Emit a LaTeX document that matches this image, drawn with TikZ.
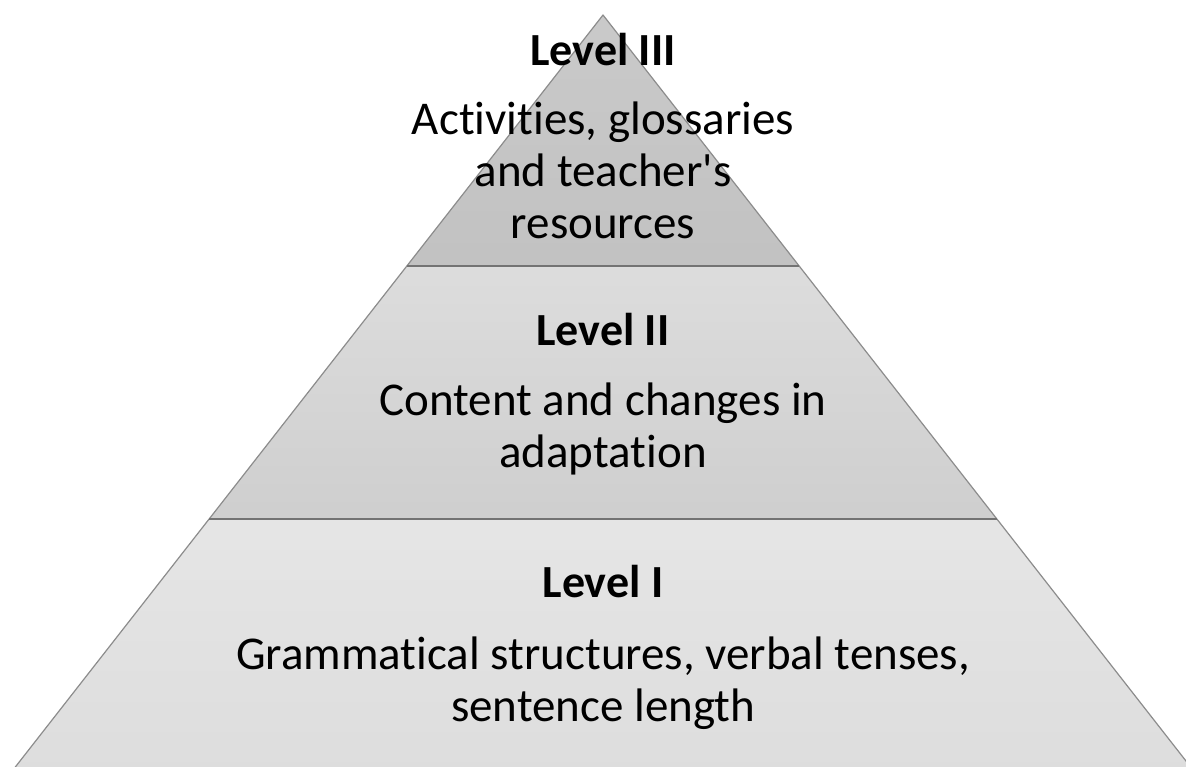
\documentclass[tikz,border=0pt]{standalone}
\usepackage{fontspec}
\setmainfont{Carlito}[Ligatures={TeXOff,NoCommon}]
\begin{document}
\begin{tikzpicture}[x=1pt,y=-1pt,
  title/.style={font=\fontsize{46}{52}\selectfont\bfseries, text=black, inner sep=0pt, anchor=base},
  body/.style={font=\fontsize{47}{52}\selectfont, text=black, inner sep=0pt, align=center, anchor=base},
  edge/.style={draw=black!45, line width=1.2pt, line join=round},
  sep/.style={draw=black!55, line width=2pt}]
\useasboundingbox (0,0) rectangle (1186,766);
\clip (0,0) rectangle (1186,766);
\coordinate (apex) at (603,15);
\coordinate (l3) at ({603-0.7815*(266-15)},266);
\coordinate (r3) at ({603+0.7815*(266-15)},266);
\coordinate (l2) at ({603-0.7815*(519-15)},519);
\coordinate (r2) at ({603+0.7815*(519-15)},519);
\coordinate (l1) at ({603-0.7815*(790-15)},790);
\coordinate (r1) at ({603+0.7815*(790-15)},790);
% fills
\shade[top color=white!79!black, bottom color=white!76!black] (apex) -- (r3) -- (l3) -- cycle;
\shade[top color=white!86.5!black, bottom color=white!81!black] (l3) -- (r3) -- (r2) -- (l2) -- cycle;
\shade[top color=white!90!black, bottom color=white!86.5!black] (l2) -- (r2) -- (r1) -- (l1) -- cycle;
% outline
\draw[edge] (l1) -- (apex) -- (r1);
\draw[sep] (l3) -- (r3);
\draw[sep] (l2) -- (r2);
% texts (anchor base = baseline of last line)
\node[title] (h3) at (603,65) {Level III};
\node[body] (t3) at (603,238) {Activities, glossaries\\and teacher's\\resources};
\node[title] (h2) at (603,345) {Level II};
\node[body] (t2) at (603,467) {Content and changes in\\adaptation};
\node[title] (h1) at (603,597) {Level I};
\node[body] (t1) at (603,721) {Grammatical structures, verbal tenses,\\sentence length};
\end{tikzpicture}
\end{document}
